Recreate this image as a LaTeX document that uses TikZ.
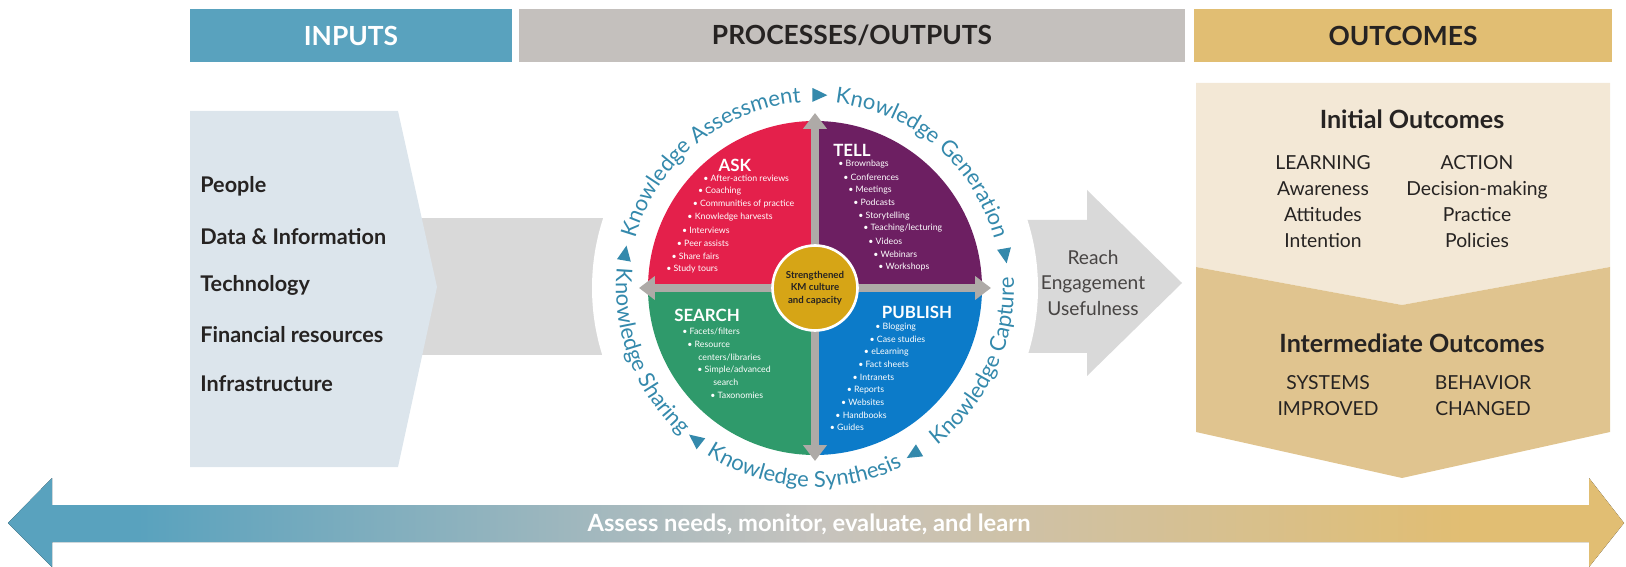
\documentclass[tikz,border=0pt]{standalone}
\usepackage{xcolor}
\usepackage{fontspec}
\setmainfont{Lato}
\usetikzlibrary{arrows.meta,decorations.text}

\definecolor{inblue}{HTML}{59A2BE}
\definecolor{procgray}{HTML}{C4C0BD}
\definecolor{outgold}{HTML}{E1BE73}
\definecolor{darktext}{HTML}{262322}
\definecolor{inpanel}{HTML}{DCE5EC}
\definecolor{flowgray}{HTML}{D9D9D9}
\definecolor{askred}{HTML}{E4204B}
\definecolor{tellpurple}{HTML}{6D1F62}
\definecolor{searchgreen}{HTML}{2F9A6B}
\definecolor{publishblue}{HTML}{0C7BC9}
\definecolor{coregold}{HTML}{D6A516}
\definecolor{crossgray}{HTML}{AEAAA7}
\definecolor{ringblue}{HTML}{3489AC}
\definecolor{outlight}{HTML}{F3E8D6}
\definecolor{outtan}{HTML}{E0C48F}
\definecolor{midgray}{HTML}{C6C3BE}

\pgfdeclarehorizontalshading{assessbar}{100bp}{color(0bp)=(inblue); color(29bp)=(inblue); color(50bp)=(midgray); color(70bp)=(outgold); color(100bp)=(outgold)}

\tikzset{
  hdr/.style={minimum height=1.06cm, inner sep=0pt, font=\fontsize{15}{16}\selectfont\bfseries},
  inp/.style={anchor=west, inner sep=0pt, text=darktext, font=\fontsize{12.3}{14}\selectfont\bfseries},
  bul/.style={anchor=west, inner sep=0pt, text=white, font=\fontsize{5}{6}\selectfont},
  qtitle/.style={inner sep=0pt, text=white, font=\fontsize{9.6}{10}\selectfont\bfseries},
  outtxt/.style={align=center, inner sep=0pt, text=darktext, font=\fontsize{11}{14.8}\selectfont},
  outtitle/.style={inner sep=0pt, text=darktext, font=\fontsize{14.3}{16}\selectfont\bfseries},
  cross/.style={draw=crossgray, line width=4pt, -{Triangle[length=9pt, width=13pt]}},
  ringtxt/.style={decorate, decoration={text along path, text align=center,
      text={|\fontsize{12.5}{12.5}\selectfont\color{ringblue}|#1}}},
}

\begin{document}
\begin{tikzpicture}[x=0.02cm, y=0.02cm]
\useasboundingbox (0,0) rectangle (1626,-567);

% column headers
\node[hdr, fill=inblue, text=white, minimum width=6.44cm] (inputs) at (351,-35.5) {INPUTS};
\node[hdr, fill=procgray, text=darktext, minimum width=13.32cm] (processes) at (852,-35.5) {PROCESSES/OUTPUTS};
\node[hdr, fill=outgold, text=darktext, minimum width=8.36cm] (outcomes) at (1403,-35.5) {OUTCOMES};

% grey flow behind the wheel
\coordinate (W) at (815,-288);
\fill[flowgray] (420,-218) rectangle (700,-355);
\fill[flowgray] (950,-220) -- (1087,-220) -- (1087,-190) -- (1182,-283) -- (1087,-376) -- (1087,-353) -- (950,-353) -- cycle;
\fill[white] (W) circle[radius=223];
\node[outtxt, text=darktext!85, font=\fontsize{10.9}{14.5}\selectfont] (reach) at (1093,-283) {Reach\\Engagement\\Usefulness};

% inputs
\fill[inpanel] (190,-111) -- (398,-111) -- (437,-287) -- (398,-467) -- (190,-467) -- cycle;
\foreach \t/\y [count=\i] in {People/186, Data \& Information/237, Technology/285, Financial resources/335, Infrastructure/384}
  \node[inp] (in\i) at (200,-\y) {\t};

% wheel
\fill[askred] (W) -- ++(180:167) arc[start angle=180, end angle=90, radius=167] -- cycle;
\fill[tellpurple] (W) -- ++(90:167) arc[start angle=90, end angle=0, radius=167] -- cycle;
\fill[searchgreen] (W) -- ++(180:167) arc[start angle=180, end angle=270, radius=167] -- cycle;
\fill[publishblue] (W) -- ++(0:167) arc[start angle=0, end angle=-90, radius=167] -- cycle;

\coordinate (wN) at (815,-113);
\coordinate (wS) at (815,-461);
\coordinate (wE) at (991,-288);
\coordinate (wW) at (639,-288);
\draw[cross] (W) -- (wN);
\draw[cross] (W) -- (wS);
\draw[cross] (W) -- (wE);
\draw[cross] (W) -- (wW);

\node[circle, fill=coregold, draw=white, line width=1.5pt, minimum size=1.7cm, inner sep=0pt,
  align=center, text=darktext, font=\fontsize{5.5}{7}\selectfont\bfseries] (core) at (W) {Strengthened\\KM culture\\and capacity};

\node[qtitle] (ask) at (735,-165) {ASK};
\node[qtitle] (tell) at (852,-150) {TELL};
\node[qtitle] (search) at (707,-315) {SEARCH};
\node[qtitle] (publish) at (917,-312) {PUBLISH};

\foreach \t [count=\i from 0] in {After-action reviews, Coaching, Communities of practice, Knowledge harvests, Interviews, Peer assists, Share fairs, Study tours}
  \node[bul] (ask\i) at ({703-5.3*\i}, {-178-13*\i}) {• \t};
\foreach \t [count=\i from 0] in {Brownbags, Conferences, Meetings, Podcasts, Storytelling, Teaching/lecturing, Videos, Webinars, Workshops}
  \node[bul] (tell\i) at ({838+5*\i}, {-164-12.9*\i}) {• \t};
\node[bul] (search0) at (682,-331) {• Facets/filters};
\node[bul] (search1) at (687,-344) {• Resource};
\node[bul] (search2) at (698,-357) {centers/libraries};
\node[bul] (search3) at (697,-370) {• Simple/advanced};
\node[bul] (search4) at (713,-382) {search};
\node[bul] (search5) at (710,-395) {• Taxonomies};
\foreach \t [count=\i from 0] in {Blogging, Case studies, eLearning, Fact sheets, Intranets, Reports, Websites, Handbooks, Guides}
  \node[bul] (pub\i) at ({875-5.7*\i}, {-327-12.6*\i}) {• \t};

% ring of knowledge steps
\path[ringtxt=Knowledge Assessment] (W) ++(166:186) arc[start angle=166, end angle=93, radius=186];
\path[ringtxt=Knowledge Generation] (W) ++(85:186) arc[start angle=85, end angle=14, radius=186];
\path[ringtxt=Knowledge Capture] (W) ++(-55:199) arc[start angle=-55, end angle=6, radius=199];
\path[ringtxt=Knowledge Synthesis] (W) ++(-124:199) arc[start angle=-124, end angle=-63, radius=199];
\path[ringtxt=Knowledge Sharing] (W) ++(174:199) arc[start angle=174, end angle=228, radius=199];
\foreach \a in {170,89,10,-59,-128}
  \fill[ringblue, shift={(W)}, rotate=\a] (186,6) -- (200,6) -- (193,-9) -- cycle;

% outcomes
\fill[outlight] (1196,-83) -- (1610,-83) -- (1610,-267) -- (1402,-305) -- (1196,-267) -- cycle;
\fill[outtan] (1196,-267) -- (1402,-305) -- (1610,-267) -- (1610,-432) -- (1402,-478) -- (1196,-432) -- cycle;
\node[outtitle] (initial) at (1412,-119) {Initial Outcomes};
\node[outtxt] (learning) at (1323,-202) {LEARNING\\Awareness\\Attitudes\\Intention};
\node[outtxt] (action) at (1477,-202) {ACTION\\Decision-making\\Practice\\Policies};
\node[outtitle] (intermediate) at (1412,-343) {Intermediate Outcomes};
\node[outtxt] (systems) at (1328,-395.5) {SYSTEMS\\IMPROVED};
\node[outtxt] (behavior) at (1483,-395.5) {BEHAVIOR\\CHANGED};

% assess / learn bar
\fill[shading=assessbar] (8,-523) -- (52,-478) -- (52,-505) -- (1589,-505) -- (1589,-478) -- (1624,-523)
  -- (1589,-567) -- (1589,-542) -- (52,-542) -- (52,-567) -- cycle;
\node[inner sep=0pt, text=white, font=\fontsize{13.5}{15}\selectfont\bfseries] (assess) at (809,-524) {Assess needs, monitor, evaluate, and learn};
\end{tikzpicture}
\end{document}
